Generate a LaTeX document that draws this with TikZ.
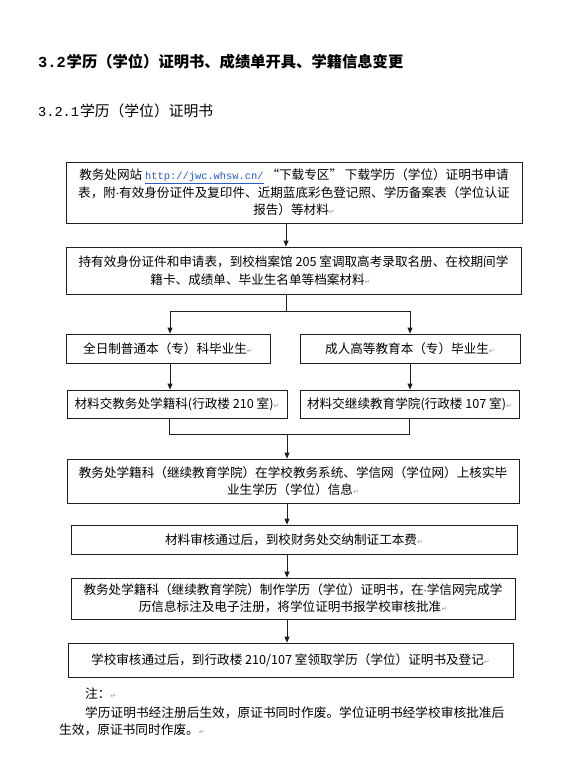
\documentclass[tikz,border=0pt]{standalone}
\usepackage{fontspec}
\setmainfont{Noto Sans CJK SC}
\newfontfamily\symfont{DejaVu Sans}
\newfontfamily\monofont{Liberation Mono}
\usetikzlibrary{arrows.meta}
\definecolor{linkblue}{RGB}{40,90,200}
\definecolor{markgray}{RGB}{150,150,150}
\definecolor{edgecol}{RGB}{30,30,30}
\newcommand{\parmark}{\textcolor{markgray}{\symfont\fontsize{7pt}{7pt}\selectfont ↵}}
\newcommand{\spdot}{{\symfont\fontsize{10pt}{10pt}\selectfont ·}}
\newcommand{\lnk}[1]{\textcolor{linkblue}{\underline{\monofont\fontsize{10.4pt}{12pt}\selectfont #1}}}
\begin{document}
\begin{tikzpicture}[x=1pt,y=-1pt,
  box/.style={draw=edgecol, line width=0.8pt, inner sep=0pt, align=center,
    font=\fontsize{12.6pt}{17.5pt}\selectfont},
  arr/.style={draw=edgecol, line width=0.8pt, -{Triangle[length=6pt,width=5pt]}},
  ln/.style={draw=edgecol, line width=0.8pt},
  txt/.style={anchor=west, inner sep=0pt, font=\fontsize{12.7pt}{16pt}\selectfont}]
\useasboundingbox (0,0) rectangle (570,760);
\fill[white] (0,0) rectangle (570,760);

% headings
\node[anchor=west, inner sep=0pt] (t1) at (38,62)
  {\fontsize{15.3pt}{18pt}\selectfont\bfseries{\monofont 3.2}\hspace{1pt}学历（学位）证明书、成绩单开具、学籍信息变更};
\node[anchor=west, inner sep=0pt] (t2) at (38,111)
  {{\monofont\fontsize{13.6pt}{16pt}\selectfont 3.2.1}\hspace{1pt}{\fontsize{14.8pt}{17pt}\selectfont 学历（学位）证明书}};

% boxes
\node[box, minimum width=456pt, minimum height=61pt] (b1) at (294,192.5)
  {教务处网站 \lnk{http://jwc.whsw.cn/} “下载专区” 下载学历（学位）证明书申请\\
   表，附\spdot 有效身份证件及复印件、近期蓝底彩色登记照、学历备案表（学位认证\\
   报告）等材料\parmark};
\node[box, minimum width=455pt, minimum height=47pt] (b2) at (293.5,270.5)
  {持有效身份证件和申请表，到校档案馆 205 室调取高考录取名册、在校期间学\\
   籍卡、成绩单、毕业生名单等档案材料\parmark\hspace*{66pt}};
\node[box, minimum width=204pt, minimum height=29pt] (l1) at (168,348.5)
  {全日制普通本（专）科毕业生\parmark};
\node[box, minimum width=220pt, minimum height=29pt] (r1) at (410,348.5)
  {成人高等教育本（专）毕业生\parmark};
\node[box, minimum width=220pt, minimum height=28pt] (l2) at (177,404)
  {材料交教务处学籍科(行政楼 210 室)\parmark};
\node[box, minimum width=219pt, minimum height=28pt] (r2) at (409.5,404)
  {材料交继续教育学院(行政楼 107 室)\parmark};
\node[box, minimum width=452pt, minimum height=44pt] (b5) at (293,481)
  {教务处学籍科（继续教育学院）在学校教务系统、学信网（学位网）上核实毕\\
   业生学历（学位）信息\parmark};
\node[box, minimum width=446pt, minimum height=29pt] (b6) at (294,539.5)
  {材料审核通过后，到校财务处交纳制证工本费\parmark};
\node[box, minimum width=444pt, minimum height=41pt,
  font=\fontsize{12.6pt}{16.5pt}\selectfont] (b7) at (293,598.5)
  {教务处学籍科（继续教育学院）制作学历（学位）证明书，在\spdot 学信网完成学\\
   历信息标注及电子注册，将学位证明书报学校审核批准\parmark};
\node[box, minimum width=445pt, minimum height=34pt] (b8) at (290.5,660)
  {学校审核通过后，到行政楼 210/107 室领取学历（学位）证明书及登记\parmark};

% notes
\node[txt] (n1) at (85,694) {注：\parmark};
\node[txt] (n2) at (85,713) {学历证明书经注册后生效，原证书同时作废。学位证明书经学校审核批准后};
\node[txt] (n3) at (59,730) {生效，原证书同时作废。\parmark};

% connectors
\coordinate (sp) at (286,0);
\coordinate (sq) at (287,0);
\coordinate (jm) at (286,311);
\coordinate (jl) at (170,311);
\coordinate (jr) at (410,311);
\coordinate (kl) at (169,434);
\coordinate (kr) at (409,434);
\coordinate (km) at (287,434);

\draw[arr] (b1.south -| sp) -- (b2.north -| sp);
\draw[ln] (b2.south -| sp) -- (jm);
\draw[arr] (jm) -| (jl |- l1.north);
\draw[arr] (jm) -| (jr |- r1.north);
\draw[arr] (l1.south -| jl) -- (l2.north -| jl);
\draw[arr] (r1.south -| jr) -- (r2.north -| jr);
\draw[ln] (l2.south -| kl) |- (km);
\draw[ln] (r2.south -| kr) |- (km);
\draw[arr] (km) -- (b5.north -| km);
\draw[arr] (b5.south -| sq) -- (b6.north -| sq);
\draw[arr] (b6.south -| sq) -- (b7.north -| sq);
\draw[arr] (b7.south -| sq) -- (b8.north -| sq);
\end{tikzpicture}
\end{document}
